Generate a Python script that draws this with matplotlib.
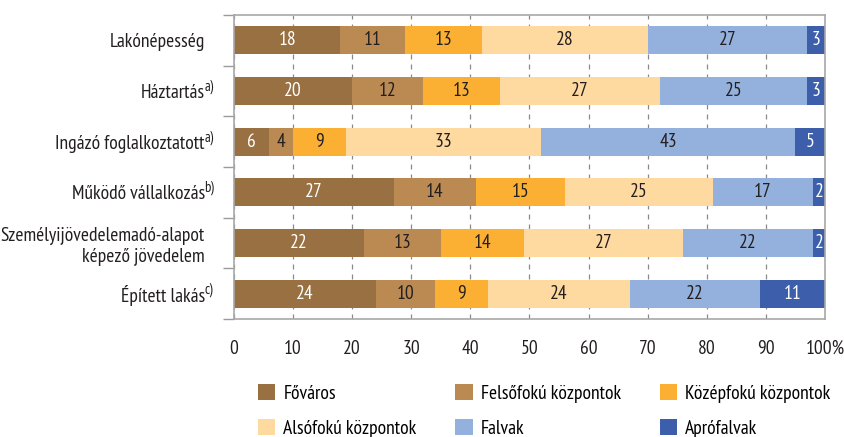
import numpy as np
import matplotlib
matplotlib.use('Agg')
import matplotlib.pyplot as plt
from matplotlib import font_manager as fm

fam = 'DejaVu Sans'
for cand in ['PT Sans Narrow', 'Fira Sans Condensed', 'Roboto Condensed',
             'Sofia Sans Condensed', 'Barlow Condensed', 'Liberation Sans Narrow']:
    try:
        fm.findfont(cand, fallback_to_default=False)
        fam = cand
        break
    except ValueError:
        pass
plt.rcParams['font.family'] = [fam, 'DejaVu Sans']

categories = ['Lakónépesség', 'Háztartás', 'Ingázó foglalkoztatott',
              'Működő vállalkozás',
              'Személyijövedelemadó-alapot\nképező jövedelem',
              'Épített lakás']
notes = ['', 'a)', 'a)', 'b)', '', 'c)']
series = ['Főváros', 'Felsőfokú központok', 'Középfokú központok',
          'Alsófokú központok', 'Falvak', 'Aprófalvak']
fovaros = [18, 20, 6, 27, 22, 24]
felsofoku = [11, 12, 4, 14, 13, 10]
kozepfoku = [13, 13, 9, 15, 14, 9]
alsofoku = [28, 27, 33, 25, 27, 24]
falvak = [27, 25, 43, 17, 22, 22]
aprofalvak = [3, 3, 5, 2, 2, 11]
xticks = [0, 10, 20, 30, 40, 50, 60, 70, 80, 90, 100]
xticklabels = ['0', '10', '20', '30', '40', '50', '60', '70', '80', '90', '100%']

colors = ['#987042', '#ba8a52', '#fbb034', '#fed9a0', '#93b1dc', '#3d5fab']
text_colors = ['white', '#231f20', '#231f20', '#231f20', '#231f20', 'white']
values = [fovaros, felsofoku, kozepfoku, alsofoku, falvak, aprofalvak]
fs = 14

fig = plt.figure(figsize=(8.45, 4.37), dpi=100)
ax = fig.add_axes([234 / 845, 118 / 437, 591 / 845, 304 / 437])

y = np.arange(len(categories))
left = np.zeros(len(categories))
handles = []
for vals, name, c, tc in zip(values, series, colors, text_colors):
    vals = np.array(vals, dtype=float)
    bars = ax.barh(y, vals, left=left, height=0.55, color=c, label=name,
                   zorder=2)
    handles.append(bars)
    for yi, l, v in zip(y, left, vals):
        ax.text(l + v / 2, yi, f'{v:.0f}', ha='center', va='center',
                color=tc, fontsize=fs, zorder=3)
    left += vals

ax.set_xlim(0, 100)
ax.set_ylim(len(categories) - 0.5, -0.5)
ax.set_xticks(xticks)
ax.set_xticklabels(xticklabels, fontsize=fs, color='#231f20')
ax.tick_params(axis='x', length=0, pad=15)
ax.xaxis.grid(True, color='#8a8a8a', linestyle=(0, (4, 4)), lw=0.9, zorder=0)

ax.set_yticks(y)
ax.set_yticklabels(categories, fontsize=fs, color='#231f20', linespacing=1.25)
ax.tick_params(axis='y', which='major', length=0, pad=21)
ax.set_yticks(np.arange(-0.5, len(categories)), minor=True)
ax.tick_params(axis='y', which='minor', length=8, color='#9a9a9a', width=1)

for s in ax.spines.values():
    s.set_color('#a8a8a8')
    s.set_linewidth(1.2)

trans = ax.get_yaxis_transform()
for yi, n in zip(y, notes):
    if n:
        ax.annotate(n, xy=(0, yi), xycoords=trans, xytext=(-21.5, 3),
                    textcoords='offset points', ha='left', va='center',
                    fontsize=10.5, color='#231f20', annotation_clip=False)

order = [0, 3, 1, 4, 2, 5]
fig.legend([handles[i] for i in order], [series[i] for i in order],
           ncol=3, loc='upper left', bbox_to_anchor=(258 / 845, 1 - 384 / 437),
           frameon=False, fontsize=fs, borderpad=0, borderaxespad=0,
           handlelength=0.9, handleheight=0.9, handletextpad=0.4,
           columnspacing=2.0, labelspacing=0.85)

fig.savefig('out.png', dpi=100)
